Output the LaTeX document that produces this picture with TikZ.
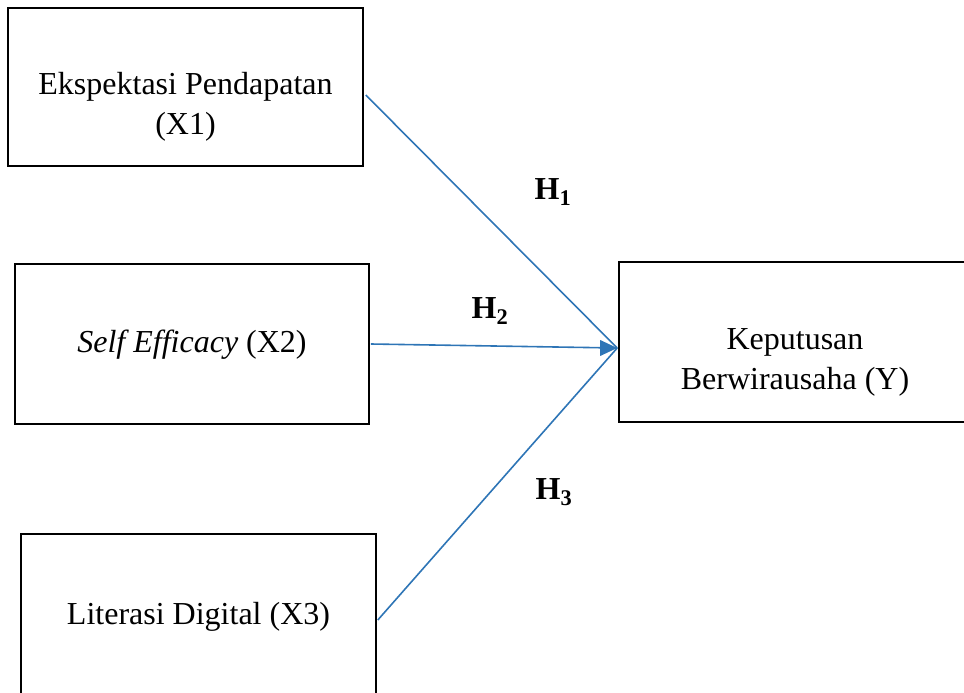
\documentclass[tikz,border=0pt]{standalone}
\usepackage{fontspec}
\setmainfont{Liberation Serif}
\usetikzlibrary{calc,arrows.meta}
\definecolor{linkblue}{HTML}{2E75B6}
\begin{document}
\begin{tikzpicture}[x=1pt,y=-1pt,
  varbox/.style={draw=black,line width=1.6pt,rectangle,inner sep=0pt},
  boxtext/.style={align=center,inner sep=0pt,font=\fontsize{32}{40}\selectfont},
  link/.style={draw=linkblue,line width=1.6pt},
  hlabel/.style={font=\fontsize{32}{37}\selectfont\bfseries}]
\useasboundingbox (0,0) rectangle (964,693);
\begin{scope}
\clip (0,0) rectangle (964,693);
\node[varbox,minimum width=355pt,minimum height=158pt] (x1) at (185.5,87) {};
\node[varbox,minimum width=354pt,minimum height=160pt] (x2) at (192,344) {};
\node[varbox,minimum width=355pt,minimum height=160pt] (x3) at (198.5,614) {};
\node[varbox,minimum width=352pt,minimum height=160pt] (y) at (795,342) {};
\end{scope}
\node[boxtext] (t1) at ($(x1.center)+(0,20)$) {Ekspektasi Pendapatan\\(X1)};
\node[boxtext] (t2) at ($(x2.center)+(0,1)$) {\textit{Self Efficacy} (X2)};
\node[boxtext] (t3) at ($(x3.center)+(0,3)$) {Literasi Digital (X3)};
\node[boxtext] (ty) at ($(y.center)+(0,20)$) {Keputusan\\Berwirausaha (Y)};
\coordinate (tip) at ($(y.west)+(-1,6)$);
\draw[link] ($(x1.east)+(2,8)$) -- (tip);
\draw[link] ($(x2.east)+(1,0)$) -- (tip);
\draw[link] ($(x3.east)+(1,6)$) -- (tip);
\fill[linkblue] (tip) -- ++(-17,-8) -- ++(0,16) -- cycle;
\node[hlabel] (h1) at (553,192) {H\textsubscript{1}};
\node[hlabel] (h2) at (490,311) {H\textsubscript{2}};
\node[hlabel] (h3) at (554,492) {H\textsubscript{3}};
\end{tikzpicture}
\end{document}
